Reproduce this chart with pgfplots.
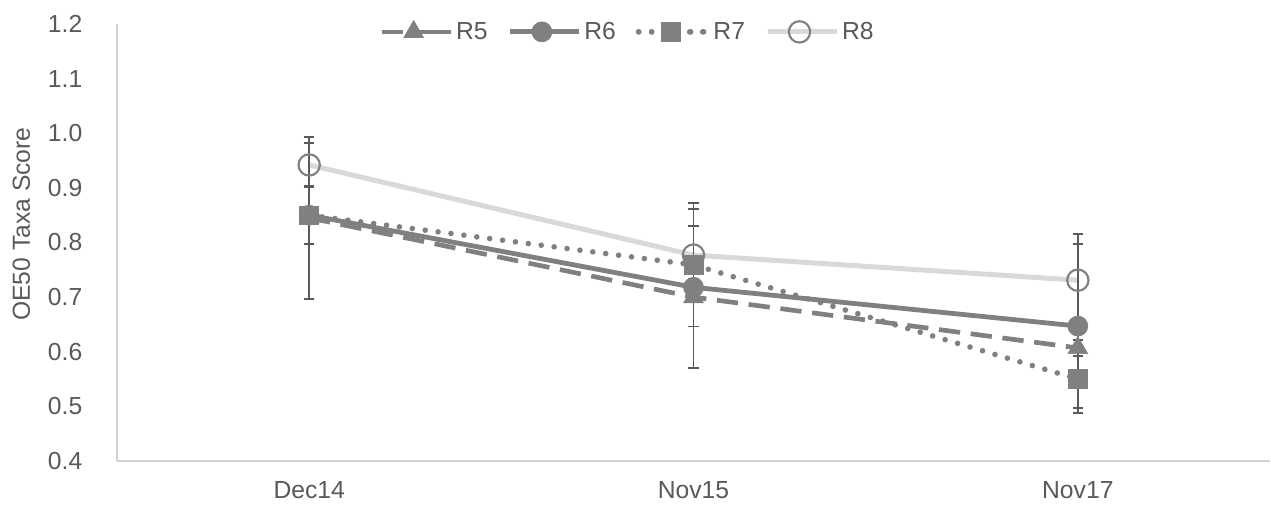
\documentclass[border=0pt]{standalone}
\usepackage{pgfplots}
\pgfplotsset{compat=1.18}
\usepackage{fontspec}
\setmainfont{Liberation Sans}
\definecolor{dg}{RGB}{128,128,128}
\definecolor{eb}{RGB}{90,90,90}
\definecolor{lg}{RGB}{217,217,217}
\definecolor{txt}{RGB}{89,89,89}
\definecolor{axc}{RGB}{210,210,210}
\begin{document}
\begin{tikzpicture}
\path[use as bounding box] (-87.75pt,-35.25pt) rectangle (865.5pt,345.75pt);
\begin{axis}[
  scale only axis, width=864.75pt, height=327.75pt,
  at={(0,0)}, anchor=south west,
  xmin=-0.5, xmax=2.5, ymin=0.4, ymax=1.2,
  xtick={0,1,2}, xticklabels={Dec14,Nov15,Nov17},
  ytick={0.4,0.5,0.6,0.7,0.8,0.9,1.0,1.1,1.2},
  yticklabel style={/pgf/number format/fixed, /pgf/number format/fixed zerofill, /pgf/number format/precision=1},
  /pgf/number format/assume math mode=true,
  tick label style={font=\fontsize{18.5}{20}\selectfont, text=txt},
  xticklabel style={yshift=-11.5pt},
  yticklabel style={xshift=-22.5pt},
  axis x line*=bottom, axis y line*=left,
  axis line style={axc, line width=0.8pt},
  major tick length=0pt,
  ylabel={OE50 Taxa Score},
  ylabel style={font=\fontsize{18.5}{20}\selectfont, text=txt, at={(axis description cs:-0.083,0.542)}, anchor=center},
  clip=false,
  legend columns=4,
  legend style={draw=none, fill=none, at={(axis description cs:0.443,0.982)}, anchor=center,
    font=\fontsize{18.5}{20}\selectfont, text=txt, /tikz/every even column/.append style={column sep=13pt}},
  legend image code/.code={
    \path (0pt,0pt) -- (52pt,0pt);
    \draw[#1, mark=none] (0pt,0pt) -- (24pt,0pt);
    \draw[#1, mark=none] (48pt,0pt) -- (24pt,0pt);
    \draw[#1] plot coordinates {(24pt,0pt)};},
  error bars/error bar style={eb, line width=1.3pt, solid},
  error bars/error mark options={rotate=90, mark size=4pt, eb, line width=1.3pt, solid},
]
\addplot[dg, line width=3.5pt, dash pattern=on 16pt off 8pt, mark=triangle*, mark size=8.5pt,
  mark options={solid, fill=dg, draw=dg, line width=0.5pt},
  error bars/.cd, y dir=both, y explicit]
  coordinates {(0,0.845) +- (0,0.148) (1,0.700) +- (0,0.130) (2,0.607) +- (0,0.015)};
\addlegendentry{R5}
\addplot[dg, line width=3.6pt, mark=*, mark size=7.5pt,
  mark options={solid, fill=dg, draw=dg, line width=0.5pt},
  error bars/.cd, y dir=both, y explicit]
  coordinates {(0,0.850) +- (0,0.053) (1,0.718) +- (0,0.015) (2,0.647) +- (0,0.150)};
\addlegendentry{R6}
\addplot[dg, line width=4.2pt, line cap=round, dash pattern=on 0pt off 9.75pt, mark=square*, mark size=7pt,
  mark options={solid, fill=dg, draw=dg, line width=0.5pt},
  error bars/.cd, y dir=both, y explicit]
  coordinates {(0,0.850) +- (0,0.015) (1,0.759) +- (0,0.113) (2,0.550) +- (0,0.062)};
\addlegendentry{R7}
\addplot[lg, line width=3.75pt, mark=o, mark size=8pt,
  mark options={solid, draw=dg, fill=none, line width=1.6pt},
  error bars/.cd, y dir=both, y explicit]
  coordinates {(0,0.942) +- (0,0.040) (1,0.777) +- (0,0.084) (2,0.731) +- (0,0.085)};
\addlegendentry{R8}
\end{axis}
\end{tikzpicture}
\end{document}
